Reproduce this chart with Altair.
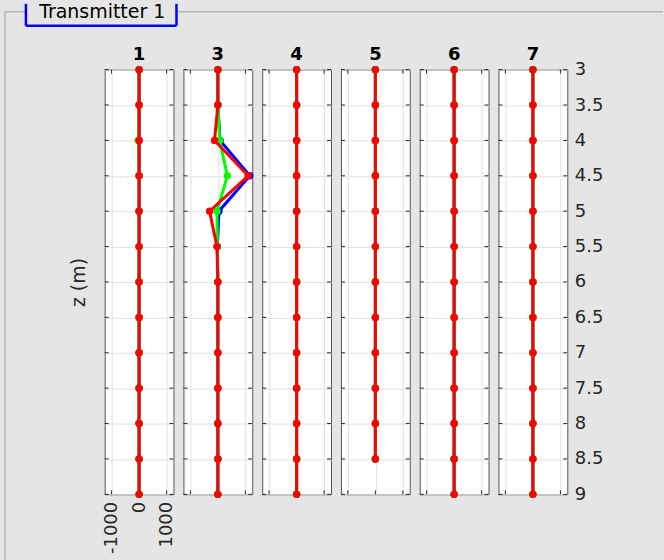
import altair as alt
import pandas as pd

FONT = "DejaVu Sans"

panels = ["1", "3", "4", "5", "6", "7"]
z_full = [3.0, 3.5, 4.0, 4.5, 5.0, 5.5, 6.0, 6.5, 7.0, 7.5, 8.0, 8.5, 9.0]
z_short = [3.0, 3.5, 4.0, 4.5, 5.0, 5.5, 6.0, 6.5, 7.0, 7.5, 8.0, 8.5]

x_ticks = [-1000, 0, 1000]
z_ticks = [3.0, 3.5, 4.0, 4.5, 5.0, 5.5, 6.0, 6.5, 7.0, 7.5, 8.0, 8.5, 9.0]

# values per panel: blue, green, red
blue_1 = [0, 0, 0, 0, 0, 0, 0, 0, 0, 0, 0, 0, 0]
green_1 = [0, 0, -30, 0, 0, 0, 0, 0, 0, 0, 0, 0, 0]
red_1 = [0, 0, 0, 0, 0, 0, 0, 0, 0, 0, 0, 0, 0]

blue_3 = [0, 0, 80, 1160, 40, -20, 0, 0, 0, 0, 0, 0, 0]
green_3 = [0, 0, 65, 345, -30, -20, 0, 0, 0, 0, 0, 0, 0]
red_3 = [0, 0, -120, 1100, -300, -30, 0, 0, 0, 0, 0, 0, 0]

blue_4 = [0, 0, 0, 0, 0, 0, 0, 0, 0, 0, 0, 0, 0]
green_4 = [0, 0, 0, 0, 0, 0, 0, 0, 0, 0, 0, 0, 0]
red_4 = [0, 0, 0, 0, 0, 0, 0, 0, 0, 0, 0, 0, 0]

blue_5 = [0, 0, 0, 0, 0, 0, 0, 0, 0, 0, 0, 0]
green_5 = [0, 0, 0, 0, 0, 0, 0, 0, 0, 0, 0, 0]
red_5 = [0, 0, 0, 0, 0, 0, 0, 0, 0, 0, 0, 0]

blue_6 = [0, 0, 0, 0, 0, 0, 0, 0, 0, 0, 0, 0, 0]
green_6 = [0, 0, 0, 0, 0, 0, 0, 0, 0, 0, 0, 0, 0]
red_6 = [0, 0, 0, 0, 0, 0, 0, 0, 0, 0, 0, 0, 0]

blue_7 = [0, 0, 0, 0, 0, 0, 0, 0, 0, 0, 0, 0, 0]
green_7 = [0, 0, 0, 0, 0, 0, 0, 0, 0, 0, 0, 0, 0]
red_7 = [0, 0, 0, 0, 0, 0, 0, 0, 0, 0, 0, 0, 0]

series_values = {
    "1": (z_full, blue_1, green_1, red_1),
    "3": (z_full, blue_3, green_3, red_3),
    "4": (z_full, blue_4, green_4, red_4),
    "5": (z_short, blue_5, green_5, red_5),
    "6": (z_full, blue_6, green_6, red_6),
    "7": (z_full, blue_7, green_7, red_7),
}
series_names = ["blue", "green", "red"]
series_colors = {"blue": "#0000ff", "green": "#00ff00", "red": "#ff0000"}

rows = []
for p in panels:
    zs, b, g, r = series_values[p]
    for name, vals in zip(series_names, (b, g, r)):
        for z, v in zip(zs, vals):
            rows.append({"panel": p, "series": name, "z": z, "x": v})
df = pd.DataFrame(rows)

W, H = 69, 426
GRID = "#e1e1e1"
TICK = "#262626"
FRAME = "#a0a0a0"

xscale = alt.Scale(domain=[-1250, 1250], nice=False, zero=False)
yscale = alt.Scale(domain=[3, 9], reverse=True, nice=False, zero=False)

zt = pd.DataFrame({"z": z_ticks})
xt = pd.DataFrame({"x": x_ticks})
one = pd.DataFrame({"d": [0]})


def make_panel(i, p):
    first = i == 0
    last = i == len(panels) - 1
    xaxis = alt.Axis(values=x_ticks, grid=True, labels=first, ticks=False,
                     domain=False, title=None, labelAngle=270, labelPadding=7,
                     labelExpr="'' + datum.value")
    if last:
        yaxis = alt.Axis(values=z_ticks, grid=True, labels=True, ticks=False,
                         domain=False, title=None, orient="right",
                         labelPadding=7, labelExpr="'' + datum.value")
    elif first:
        yaxis = alt.Axis(values=z_ticks, grid=True, labels=False, ticks=False,
                         domain=False, title="z (m)", orient="left",
                         titlePadding=16)
    else:
        yaxis = alt.Axis(values=z_ticks, grid=True, labels=False, ticks=False,
                         domain=False, title=None, orient="left")
    X = alt.X("x:Q", scale=xscale, axis=xaxis)
    Y = alt.Y("z:Q", scale=yscale, axis=yaxis)

    layers = []
    if first:
        layers.append(alt.Chart(one).mark_rect(opacity=0).encode(
            x=alt.value(-104), x2=alt.value(560), y=alt.value(-68), y2=alt.value(492)))
        layers.append(alt.Chart(one).mark_rule(color=FRAME, strokeWidth=1).encode(
            x=alt.value(-100), y=alt.value(-58), y2=alt.value(492)))
        layers.append(alt.Chart(one).mark_rule(color=FRAME, strokeWidth=1).encode(
            y=alt.value(-58), x=alt.value(-100), x2=alt.value(-79)))
        layers.append(alt.Chart(one).mark_rule(color=FRAME, strokeWidth=1).encode(
            y=alt.value(-58), x=alt.value(72), x2=alt.value(560)))
        layers.append(alt.Chart(one).mark_rule(color="#0000ff", strokeWidth=2.5).encode(
            x=alt.value(-79), y=alt.value(-66), y2=alt.value(-44)))
        layers.append(alt.Chart(one).mark_rule(color="#0000ff", strokeWidth=2.5).encode(
            x=alt.value(72), y=alt.value(-66), y2=alt.value(-44)))
        layers.append(alt.Chart(one).mark_rule(color="#0000ff", strokeWidth=2.5).encode(
            y=alt.value(-44), x=alt.value(-79), x2=alt.value(72)))
        layers.append(alt.Chart(one).mark_text(
            text="Transmitter 1", font=FONT, fontSize=19, color="black",
            align="center", baseline="alphabetic").encode(
            x=alt.value(-2.5), y=alt.value(-52)))

    # panel title as text
    layers.append(alt.Chart(one).mark_text(
        text=p, font=FONT, fontSize=18, fontWeight="bold", color="black",
        align="center", baseline="alphabetic").encode(
        x=alt.value(W / 2), y=alt.value(-10)))

    # inward ticks
    layers.append(alt.Chart(zt).mark_rule(color=TICK, strokeWidth=1).encode(
        y=Y, x=alt.value(0), x2=alt.value(4)))
    layers.append(alt.Chart(zt).mark_rule(color=TICK, strokeWidth=1).encode(
        y=Y, x=alt.value(W - 4), x2=alt.value(W)))
    layers.append(alt.Chart(xt).mark_rule(color=TICK, strokeWidth=1).encode(
        x=X, y=alt.value(H - 4), y2=alt.value(H)))
    layers.append(alt.Chart(xt).mark_rule(color=TICK, strokeWidth=1).encode(
        x=X, y=alt.value(0), y2=alt.value(4)))

    sub = df[df["panel"] == p]
    for s in series_names:
        ss = sub[sub["series"] == s]
        layers.append(alt.Chart(ss).mark_line(
            color=series_colors[s], strokeWidth=3).encode(
            x=X, y=Y, order=alt.Order("z:Q")))
        layers.append(alt.Chart(ss).mark_circle(
            color=series_colors[s], size=55, opacity=1).encode(x=X, y=Y))

    return alt.layer(*layers).properties(width=W, height=H)


charts = [make_panel(i, p) for i, p in enumerate(panels)]

chart = alt.hconcat(*charts, spacing=10, bounds="flush").properties(
    padding=0
).configure(
    background="#e5e5e5", font=FONT
).configure_view(
    fill="white", stroke="#555555", strokeWidth=1
).configure_axis(
    labelFont=FONT, labelFontSize=18, labelColor="#262626",
    titleFont=FONT, titleFontSize=19, titleColor="#262626",
    titleFontWeight="normal", gridColor=GRID, gridWidth=1
)

chart.save("out.html", embed_options={"renderer": "svg", "actions": False})
